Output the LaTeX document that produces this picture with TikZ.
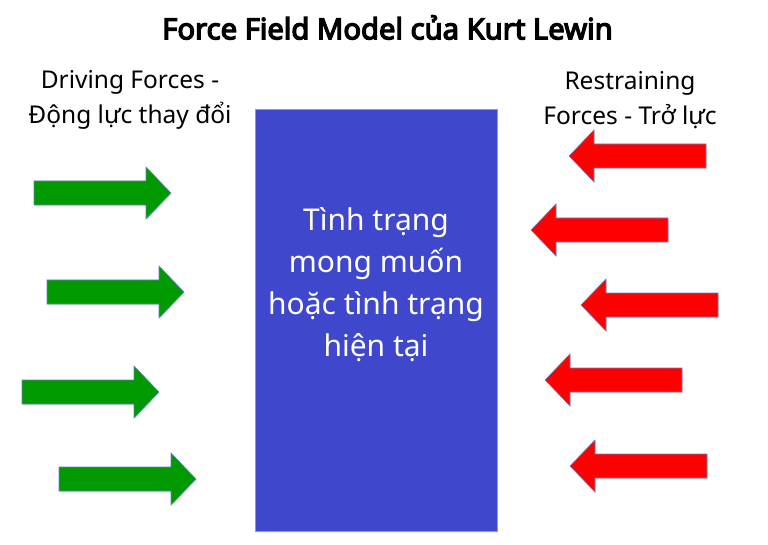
\documentclass[tikz,border=0pt]{standalone}
\usepackage{fontspec}
\setmainfont{Noto Sans}
\newfontfamily\headingfont{Noto Sans}[FakeBold=4.5]
\usetikzlibrary{shadows}

\definecolor{statusblue}{RGB}{63,72,204}
\definecolor{boxedge}{RGB}{140,150,230}
\definecolor{drivegreen}{RGB}{0,153,0}
\definecolor{restrainred}{RGB}{255,0,0}
\definecolor{arrowedge}{RGB}{100,130,195}

\begin{document}
\begin{tikzpicture}[x=1pt, y=-1pt,
  forcearrow/.style={draw=arrowedge, line width=0.6pt, line join=miter,
    drop shadow={opacity=0.18, shadow xshift=1.2pt, shadow yshift=-1.5pt}},
  % block arrow pointing right, origin at the tail centre
  pushright/.pic={
    \path[forcearrow, fill=drivegreen]
      (0,-12) -- (112,-12) -- (112,-26) -- (137,0) -- (112,26) -- (112,12) -- (0,12) -- cycle;
  },
  % block arrow pointing left, origin at the tail centre
  pushleft/.pic={
    \path[forcearrow, fill=restrainred]
      (0,-12) -- (-112,-12) -- (-112,-26) -- (-137,0) -- (-112,26) -- (-112,12) -- (0,12) -- cycle;
  },
  statebox/.style={rectangle, fill=statusblue, draw=boxedge, line width=0.6pt,
    minimum width=242pt, minimum height=422pt, inner sep=0pt,
    drop shadow={opacity=0.12, shadow xshift=0pt, shadow yshift=-2pt}},
  statetext/.style={text=white, align=center, font=\fontsize{30}{42}\selectfont},
  sidelabel/.style={align=center, font=\fontsize{24.5}{35}\selectfont},
  titletext/.style={font=\headingfont\fontsize{29.2}{32}\selectfont}
]
\useasboundingbox (0,0) rectangle (768,545);

% title
\node[titletext, anchor=base] (title) at (387.5,39.3) {Force Field Model của Kurt Lewin};

% side headings
\node[sidelabel] (driving) at (130,100) {Driving Forces -\\Động lực thay đổi};
\node[sidelabel] (restraining) at (630,100) {Restraining\\Forces - Trở lực};

% central state
\node[statebox] (state) at (376,320) {};
\node[statetext] (statelabel) at (376,285) {Tình trạng\\mong muốn\\hoặc tình trạng\\hiện tại};

% driving forces
\pic (g1) at (34,193) {pushright};
\pic (g2) at (47,292) {pushright};
\pic (g3) at (22,392) {pushright};
\pic (g4) at (59,479) {pushright};

% restraining forces
\pic (r1) at (706,156) {pushleft};
\pic (r2) at (668,230) {pushleft};
\pic (r3) at (718,305) {pushleft};
\pic (r4) at (682,380) {pushleft};
\pic (r5) at (707,466) {pushleft};
\end{tikzpicture}
\end{document}
